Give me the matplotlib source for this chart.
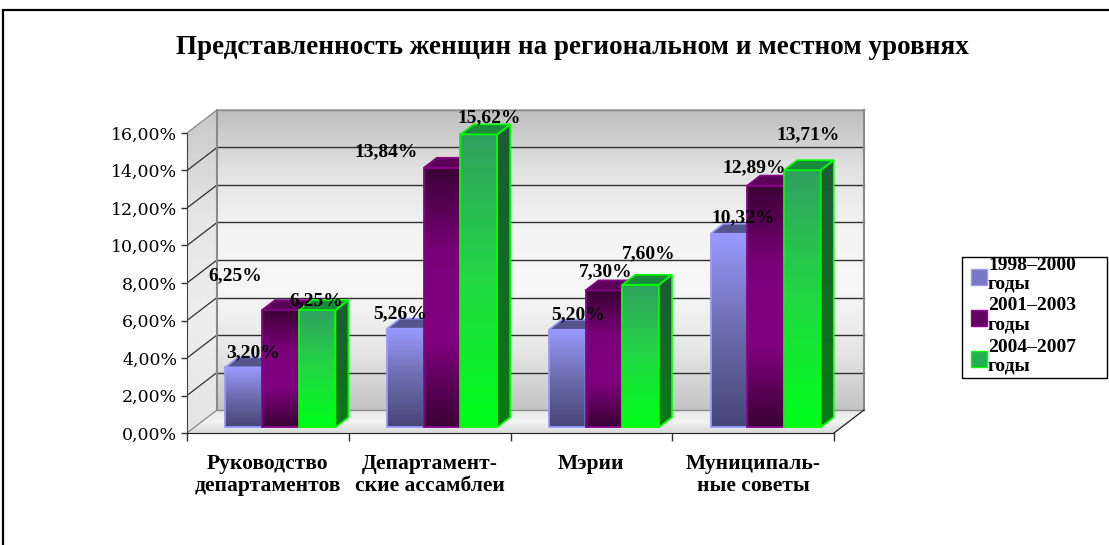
import numpy as np
import matplotlib
matplotlib.use("Agg")
import matplotlib.pyplot as plt
from matplotlib.colors import LinearSegmentedColormap
from matplotlib.patches import Polygon, Rectangle

# data
categories = ["Руководство\nдепартаментов", "Департамент-\nские ассамблеи", "Мэрии", "Муниципаль-\nные советы"]
series_names = ["1998–2000\nгоды", "2001–2003\nгоды", "2004–2007\nгоды"]
v_1998 = [3.20, 5.26, 5.20, 10.32]
v_2001 = [6.25, 13.84, 7.30, 12.89]
v_2004 = [6.25, 15.62, 7.60, 13.71]
yticks = [0, 2, 4, 6, 8, 10, 12, 14, 16]
title = "Представленность женщин на региональном и местном уровнях"

# label nudges in pixels (dx, dy) per series, per category
label_nudge = [
    [(9, 15), (-5, 15), (11, 15), (14, 16)],
    [(-45, 34), (-56, 16), (2, 19), (-11, 18)],
    [(-1, 9), (10, 17), (8, 31), (6, 35)],
]

W, H = 1109, 545
fig = plt.figure(figsize=(W / 100, H / 100), dpi=100)

def fx(x):
    return x / W

def fy(y):
    return 1 - y / H

# front axis: x 187..834 px, y 0% at 433 px, 16% at 133 px
pxx = (834 - 187) / 4.0
pxy = 300 / 16.0
xmax, ymax = 4.25, 17.4
ax = fig.add_axes([fx(187), fy(433), xmax * pxx / W, ymax * pxy / H])

ddx, ddy = 30 / pxx, 23 / pxy      # depth of the box
bdx, bdy = 13 / pxx, 10 / pxy      # depth of a bar
sx, sy = 0.25 * ddx + 5 / pxx, 0.25 * ddy    # bars stand a bit behind the front
bw = 0.227

def grad(ax, extent, colors, z, clip=None):
    cm = LinearSegmentedColormap.from_list("g", colors)
    arr = np.linspace(0, 1, 256).reshape(-1, 1)
    im = ax.imshow(arr, extent=extent, origin="lower", cmap=cm, aspect="auto",
                   interpolation="bilinear", zorder=z)
    if clip is not None:
        ax.add_patch(clip)
        clip.set_visible(False)
        im.set_clip_path(clip)
    return im

# back wall
wall_cols = ["#c4c4c4", "#e6e6e6", "#f7f7f7", "#f4f4f4", "#e2e2e2", "#bdbdbd"]
grad(ax, (ddx, 4 + ddx, ddy, 16 + ddy), wall_cols, 1)
# left wall
lw_poly = Polygon([(0, 0), (ddx, ddy), (ddx, 16 + ddy), (0, 16)], closed=True)
grad(ax, (0, ddx, 0, 16 + ddy), ["#e4e4e4", "#eeeeee", "#e6e6e6", "#c8c8c8"], 1, lw_poly)
# floor
fl_poly = Polygon([(0, 0), (4, 0), (4 + ddx, ddy), (ddx, ddy)], closed=True)
grad(ax, (0, 4 + ddx, 0, ddy), ["#d9d9d9", "#f4f4f4", "#e8e8e8"], 1, fl_poly)

# gridlines on back and side walls
for t in yticks:
    col = "#303030" if 0 < t < 16 else "#8a8a8a"
    ax.plot([ddx, 4 + ddx], [t + ddy, t + ddy], color=col, lw=1.0, zorder=2)
    ax.plot([0, ddx], [t, t + ddy], color=col, lw=0.9, zorder=2)
ax.plot([ddx, ddx], [ddy, 16 + ddy], color="#8a8a8a", lw=1.5, zorder=2)
ax.plot([4 + ddx, 4 + ddx], [ddy, 16 + ddy], color="#8a8a8a", lw=1.5, zorder=2)
ax.plot([4, 4 + ddx], [0, ddy], color="#202020", lw=0.9, zorder=2)

styles = [
    dict(front=["#464678", "#6c6cae", "#9a9aff"], top="#55558e", side="#3c3c6a", edge="#9999ff"),
    dict(front=["#3a0034", "#800080", "#7a007a", "#3a0034"], top="#5a0058", side="#4a0048", edge="#8a008a"),
    dict(front=["#00ff1a", "#22d844", "#30a060"], top="#1a8a3e", side=["#0a7a14", "#1d5a38"], edge="#00ff00"),
]
values = [v_1998, v_2001, v_2004]

z = 10
for i in range(len(categories)):
    for j, vals in enumerate(values):
        v = vals[i]
        st = styles[j]
        x0 = i + (1 - 3 * bw) / 2 + sx + j * bw
        y0 = sy
        grad(ax, (x0, x0 + bw, y0, y0 + v), st["front"], z)
        ax.add_patch(Rectangle((x0, y0), bw, v, fill=False, ec=st["edge"], lw=1.3, zorder=z + 0.1))
        top = Polygon([(x0, y0 + v), (x0 + bw, y0 + v), (x0 + bw + bdx, y0 + v + bdy), (x0 + bdx, y0 + v + bdy)],
                      closed=True, fc=st["top"], ec=st["edge"], lw=1.2, zorder=z + 0.2)
        ax.add_patch(top)
        side = Polygon([(x0 + bw, y0), (x0 + bw + bdx, y0 + bdy), (x0 + bw + bdx, y0 + v + bdy), (x0 + bw, y0 + v)],
                       closed=True, ec=st["edge"], lw=1.2, zorder=z + 0.2)
        if isinstance(st["side"], list):
            ax.add_patch(side)
            side.set_facecolor("none")
            grad(ax, (x0 + bw, x0 + bw + bdx, y0, y0 + v + bdy), st["side"], z + 0.15,
                 Polygon(side.get_xy(), closed=True))
        else:
            side.set_facecolor(st["side"])
            ax.add_patch(side)
        z += 1

# data labels
for j, vals in enumerate(values):
    for i, v in enumerate(vals):
        x0 = i + (1 - 3 * bw) / 2 + sx + j * bw
        dx, dy = label_nudge[j][i]
        ax.annotate(f"{v:.2f}%".replace(".", ","), xy=(x0 + bw / 2, sy + v),
                    xytext=(dx, dy), textcoords="offset pixels", ha="center", va="center",
                    fontsize=14, fontweight="bold", family="Liberation Serif", zorder=100)

ax.set_xlim(0, xmax)
ax.set_ylim(0, ymax)
ax.patch.set_visible(False)
for s in ["top", "right"]:
    ax.spines[s].set_visible(False)
ax.spines["left"].set_bounds(0, 16)
ax.spines["bottom"].set_bounds(0, 4)
ax.spines["left"].set_color("#404040")
ax.spines["bottom"].set_color("#202020")
ax.spines["left"].set_zorder(3)
ax.spines["bottom"].set_zorder(3)

ax.set_yticks(yticks)
ax.set_yticklabels([f"{t:.2f}%".replace(".", ",") for t in yticks], family="DejaVu Serif", fontsize=12.5)
ax.tick_params(axis="y", length=4, width=1, color="#303030", pad=3)
ax.set_xticks([0, 1, 2, 3, 4])
ax.set_xticklabels([])
ax.tick_params(axis="x", which="major", length=6, width=1, color="#303030")
ax.set_xticks([i + 0.5 for i in range(len(categories))], minor=True)
ax.set_xticklabels(categories, minor=True, fontsize=15.5, fontweight="bold", family="Liberation Serif",
                   linespacing=1.15)
ax.tick_params(axis="x", which="minor", length=0, pad=15)

fig.text(fx(572), fy(47), title, ha="center", va="center", fontsize=19.5, fontweight="bold",
         family="Liberation Serif")

# legend
fig.patches.append(Rectangle((fx(962), fy(378)), fx(1107 - 962), (378 - 257) / H, transform=fig.transFigure,
                             fill=False, ec="black", lw=1.0))
leg_cols = [("#7777c4", "#9999ff"), ("#600060", "#990099"), ("#22b050", "#00ff00")]
for k, name in enumerate(series_names):
    yc = 277 + k * 41
    fig.patches.append(Rectangle((fx(971), fy(yc + 8)), fx(16), 16 / H, transform=fig.transFigure,
                                 fc=leg_cols[k][0], ec=leg_cols[k][1], lw=1.0))
    l1, l2 = name.split("\n")
    fig.text(fx(988), fy(yc - 12), l1, ha="left", va="center", fontsize=14, fontweight="bold",
             family="Liberation Serif")
    fig.text(fx(988), fy(yc + 7), l2, ha="left", va="center", fontsize=14, fontweight="bold",
             family="Liberation Serif")

# outer border
fig.patches.append(Rectangle((fx(3), -0.2), 1.2, fy(10) + 0.2, transform=fig.transFigure,
                             fill=False, ec="black", lw=1.6))

fig.savefig("out.png", dpi=100)
